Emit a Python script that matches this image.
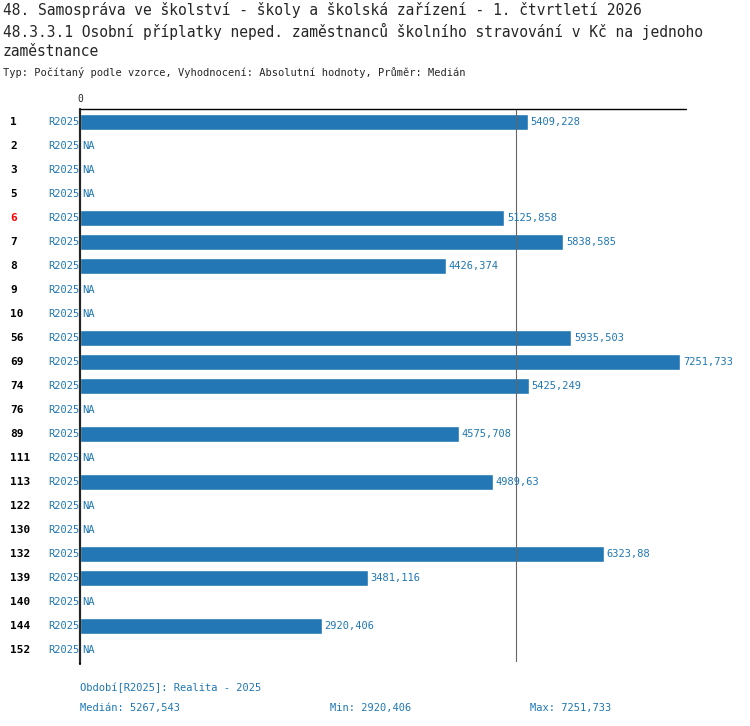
import numpy as np, pandas as pd, matplotlib
matplotlib.use("Agg")
import matplotlib.pyplot as plt, seaborn as sns
import matplotlib.transforms as mt

codes = ["1","2","3","5","6","7","8","9","10","56","69","74","76","89","111","113","122","130","132","139","140","144","152"]
values = [5409.228,np.nan,np.nan,np.nan,5125.858,5838.585,4426.374,np.nan,np.nan,5935.503,7251.733,5425.249,np.nan,4575.708,np.nan,4989.63,np.nan,np.nan,6323.88,3481.116,np.nan,2920.406,np.nan]
period = "R2025"
median, vmin, vmax = 5267.543, 2920.406, 7251.733

sns.set_style("white")
plt.rcParams['font.family'] = ['DejaVu Sans Mono']
W, H = 750, 726
fig = plt.figure(figsize=(W/100, H/100), dpi=100)
ax = fig.add_axes([80/W, 1-662/H, 606/W, 552/H])
df = pd.DataFrame({"code": [str(i) for i in range(len(codes))], "v": values})
sns.barplot(data=df, x="v", y="code", orient="h", color="#2277b4", width=0.67, ax=ax, saturation=1)
ax.set_xlim(0, 7320); ax.set_ylim(22.5, -0.5)
ax.set_xlabel(""); ax.set_ylabel("")
ax.set_yticks([]); ax.set_xticks([])
for s in ["right", "bottom", "top"]:
    ax.spines[s].set_visible(False)
ax.spines["left"].set_linewidth(1.5)
ax.axvline(median, color="#666666", lw=0.8)
ax.plot([0, 7320], [-0.55, -0.55], color="black", lw=1, clip_on=False)
ax.plot([0, 0], [-0.55, 22.6], color="black", lw=1.5, clip_on=False)
ax.text(0, -0.75, "0", fontsize=7, ha="center", va="bottom")
tr = mt.blended_transform_factory(fig.transFigure, ax.transData)
fmt = lambda v: f"{v:.3f}".rstrip("0").replace(".", ",")
for i, (c, v) in enumerate(zip(codes, values)):
    ax.text(10/W, i, c, transform=tr, fontsize=8, fontweight="bold", va="center", color="red" if c == "6" else "black")
    ax.text(48/W, i, period, transform=tr, fontsize=7.5, va="center", color="#1f77b4")
    if np.isnan(v):
        ax.text(30, i, "NA", fontsize=7.5, va="center", color="#1f77b4")
    else:
        ax.text(v+30, i, fmt(v), fontsize=7.5, va="center", color="#1f77b4", clip_on=False)
def ft(x, y, s, **k):
    fig.text(x/W, 1-y/H, s, va="center", **k)
ft(3, 10, "48. Samospráva ve školství - školy a školská zařízení - 1. čtvrtletí 2026", fontsize=10.5)
ft(3, 31, "48.3.3.1 Osobní příplatky neped. zaměstnanců školního stravování v Kč na jednoho", fontsize=10.5)
ft(3, 52, "zaměstnance", fontsize=10.5)
ft(3, 73, "Typ: Počítaný podle vzorce, Vyhodnocení: Absolutní hodnoty, Průměr: Medián", fontsize=7.5)
ft(80, 688, "Období[R2025]: Realita - 2025", fontsize=7.5, color="#1f77b4")
ft(80, 708, "Medián: " + fmt(median), fontsize=7.5, color="#1f77b4")
ft(330, 708, "Min: " + fmt(vmin), fontsize=7.5, color="#1f77b4")
ft(530, 708, "Max: " + fmt(vmax), fontsize=7.5, color="#1f77b4")
fig.savefig("out.png", dpi=100)
